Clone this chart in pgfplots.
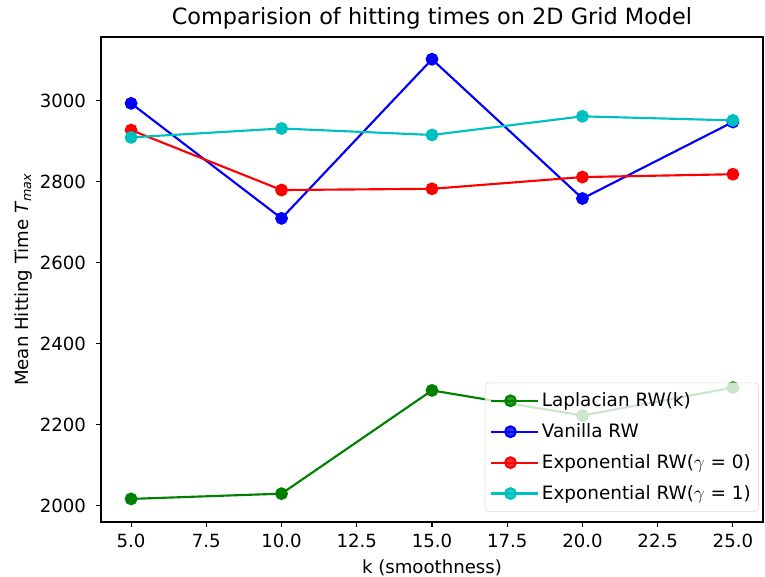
\documentclass[border=0pt]{standalone}
\usepackage{pgfplots}
\pgfplotsset{compat=1.18}
\usepackage{fontspec}
\setmainfont{DejaVu Sans}
\definecolor{mgreen}{rgb}{0,0.5,0}
\definecolor{mblue}{rgb}{0,0,1}
\definecolor{mred}{rgb}{1,0,0}
\definecolor{mcyan}{rgb}{0,0.75,0.75}
\begin{document}
\begin{tikzpicture}
\path[use as bounding box] (-75.75pt,-41.25pt) rectangle (498pt,391.5pt);
\begin{axis}[
  at={(0pt,0pt)}, anchor=south west,
  scale only axis, width=496.5pt, height=363.75pt,
  xmin=4, xmax=26, ymin=1960, ymax=3158,
  axis line style={line width=0.8pt},
  tick align=outside, tick pos=left,
  major tick length=3.75pt,
  tick style={line width=0.8pt, black},
  xtick={5,7.5,10,12.5,15,17.5,20,22.5,25},
  ytick={2000,2200,2400,2600,2800,3000},
  /pgf/number format/assume math mode=true,
  xticklabel style={yshift=-2pt, font=\fontsize{13.6pt}{16pt}\selectfont, /pgf/number format/.cd, fixed, fixed zerofill, precision=1},
  yticklabel style={xshift=-4pt, font=\fontsize{13.6pt}{16pt}\selectfont, /pgf/number format/.cd, fixed, 1000 sep={}},
  xlabel style={font=\fontsize{13.6pt}{16pt}\selectfont, yshift=-2pt},
  ylabel style={font=\fontsize{13.6pt}{16pt}\selectfont, yshift=-1pt},
  title style={font=\fontsize{16.8pt}{19pt}\selectfont, yshift=-4pt},
  title={Comparision of hitting times on 2D Grid Model},
  xlabel={k (smoothness)},
  ylabel={Mean Hitting Time \textit{T}\textsubscript{\textit{max}}},
  every axis plot/.append style={line width=1.6pt, mark=*, mark size=4pt},
  legend image code/.code={\path (0pt,0pt) -- (35pt,0pt); \draw[mark repeat=2,mark phase=2,#1] plot coordinates {(0pt,0pt) (14.25pt,0pt) (28.5pt,0pt)};},
  legend cell align=left,
  legend style={at={(0.994,0.021)}, anchor=south east, draw=black!15, fill=white, fill opacity=0.8, text opacity=1, rounded corners=3pt, font=\fontsize{13.8pt}{16pt}\selectfont, row sep=7.2pt, inner xsep=4pt, inner ysep=5.5pt},
]
\addplot[mgreen, mark options={fill=mgreen, draw=mgreen}] coordinates {(5,2017) (10,2030) (15,2285) (20,2223) (25,2292)};
\addlegendentry{Laplacian RW(k)}
\addplot[mblue, mark options={fill=mblue, draw=mblue}] coordinates {(5,2994) (10,2710) (15,3103) (20,2759) (25,2948)};
\addlegendentry{Vanilla RW}
\addplot[mred, mark options={fill=mred, draw=mred}] coordinates {(5,2928) (10,2780) (15,2783) (20,2812) (25,2819)};
\addlegendentry{Exponential RW($\gamma$ = 0)}
\addplot[mcyan, mark options={fill=mcyan, draw=mcyan}] coordinates {(5,2910) (10,2932) (15,2916) (20,2962) (25,2952)};
\addlegendentry{Exponential RW($\gamma$ = 1)}
\end{axis}
\end{tikzpicture}
\end{document}
